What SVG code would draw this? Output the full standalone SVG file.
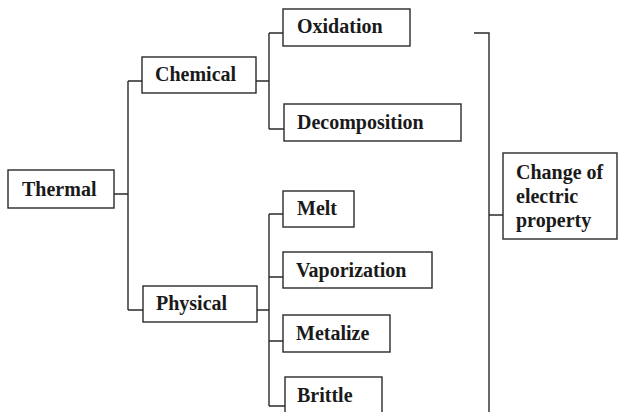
<svg xmlns="http://www.w3.org/2000/svg" width="620" height="412" viewBox="0 0 620 412">
<style>
.box{fill:#fff;stroke:#2a2a2a;stroke-width:1.4}
.lbl{font-family:"Liberation Serif","Times New Roman",serif;font-weight:bold;font-size:20px;fill:#1a1a1a}
.con{fill:none;stroke:#2a2a2a;stroke-width:1.4}
</style>
<rect width="620" height="412" fill="#fff"/>
<g id="connectors">
<path class="con" d="M114 194H128M128 81V310M128 81H142M128 310H143"/>
<path class="con" d="M256 81H269M269 33V129M269 33H283M269 129H284"/>
<path class="con" d="M257 310H269M269 214V406M269 214H283M269 277H283M269 341H283M269 406H285"/>
<path class="con" d="M474 33H489V412M489 215H503"/>
</g>
<g id="thermal"><rect class="box" x="8" y="170" width="106" height="38"/><text class="lbl" x="22" y="196">Thermal</text></g>
<g id="chemical"><rect class="box" x="142" y="57" width="114" height="36"/><text class="lbl" x="155" y="81">Chemical</text></g>
<g id="physical"><rect class="box" x="143" y="286" width="114" height="36"/><text class="lbl" x="156" y="310">Physical</text></g>
<g id="oxidation"><rect class="box" x="283" y="9" width="127" height="37"/><text class="lbl" x="297" y="33">Oxidation</text></g>
<g id="decomposition"><rect class="box" x="284" y="104" width="177" height="37"/><text class="lbl" x="297" y="129">Decomposition</text></g>
<g id="melt"><rect class="box" x="283" y="191" width="71" height="36"/><text class="lbl" x="297" y="215">Melt</text></g>
<g id="vaporization"><rect class="box" x="283" y="252" width="149" height="36"/><text class="lbl" x="296" y="277">Vaporization</text></g>
<g id="metalize"><rect class="box" x="283" y="315" width="107" height="37"/><text class="lbl" x="296" y="340">Metalize</text></g>
<g id="brittle"><rect class="box" x="285" y="377" width="97" height="40"/><text class="lbl" x="297" y="402">Brittle</text></g>
<g id="change"><rect class="box" x="503" y="153" width="114" height="86"/><text class="lbl" x="516" y="179">Change of</text><text class="lbl" x="516" y="203">electric</text><text class="lbl" x="516" y="227">property</text></g>
</svg>
